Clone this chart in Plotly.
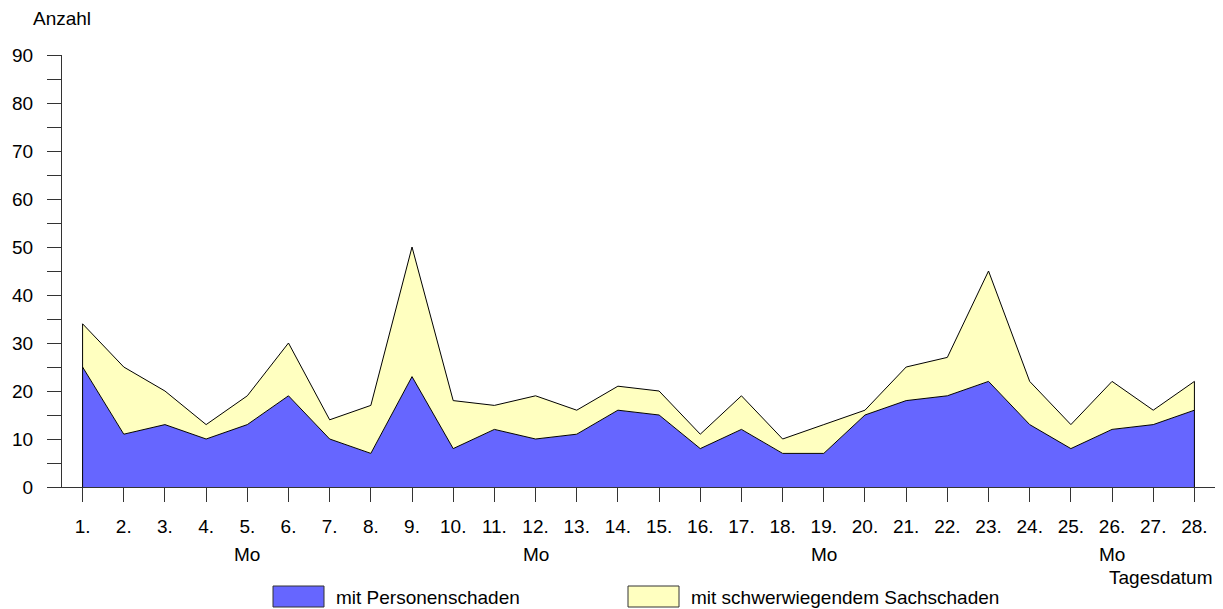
import plotly.graph_objects as go

days = [f"{d}." for d in range(1, 29)]
personen = [25, 11, 13, 10, 13, 19, 10, 7, 23, 8, 12, 10, 11, 16, 15, 8, 12, 7, 7, 15, 18, 19, 22, 13, 8, 12, 13, 16]
gesamt = [34, 25, 20, 13, 19, 30, 14, 17, 50, 18, 17, 19, 16, 21, 20, 11, 19, 10, 13, 16, 25, 27, 45, 22, 13, 22, 16, 22]
sach = [g - p for g, p in zip(gesamt, personen)]
montage = ["5.", "12.", "19.", "26."]
y_ticks = [0, 10, 20, 30, 40, 50, 60, 70, 80, 90]

BLUE = "#6666FF"
YELLOW = "#FFFFC0"
FONT = "Liberation Sans, Arial, sans-serif"
FS = 19

x = list(range(len(days)))

fig = go.Figure()
fig.add_trace(go.Scatter(
    x=x, y=personen, stackgroup="one", mode="lines",
    line=dict(color="black", width=1), fillcolor=BLUE,
    name="mit Personenschaden", showlegend=False, hoverinfo="skip"))
fig.add_trace(go.Scatter(
    x=x, y=sach, stackgroup="one", mode="lines",
    line=dict(color="black", width=1), fillcolor=YELLOW,
    name="mit schwerwiegendem Sachschaden", showlegend=False, hoverinfo="skip"))
# vertical edges of the area at first and last day
fig.add_trace(go.Scatter(
    x=[x[0], x[0], None, x[-1], x[-1]],
    y=[0, gesamt[0], None, 0, gesamt[-1]],
    mode="lines", line=dict(color="black", width=1),
    showlegend=False, hoverinfo="skip"))

# page offset (body margin) compensation
OFF = 8
# plot area geometry in page pixels
L, R, T, B = 62, 1215, 55, 487
W, H = R - L, B - T
def px(p):
    return (p - L) / W
def py(p):
    return (B - p) / H

annotations = []
for d in montage:
    annotations.append(dict(x=days.index(d), y=py(554), xref="x", yref="paper",
                            text="Mo", showarrow=False, xanchor="center", yanchor="middle",
                            font=dict(family=FONT, size=FS, color="black")))
annotations.append(dict(x=px(31), y=py(18), xref="paper", yref="paper", text="Anzahl",
                        showarrow=False, xanchor="left", yanchor="middle",
                        font=dict(family=FONT, size=FS, color="black")))
annotations.append(dict(x=px(1215), y=py(577), xref="paper", yref="paper", text="Tagesdatum",
                        showarrow=False, xanchor="right", yanchor="middle",
                        font=dict(family=FONT, size=FS, color="black")))
# legend
legend_items = [("mit Personenschaden", BLUE, 273), ("mit schwerwiegendem Sachschaden", YELLOW, 628)]
shapes = []
for label, col, x0 in legend_items:
    shapes.append(dict(type="rect", xref="paper", yref="paper",
                       x0=px(x0), x1=px(x0 + 51), y0=py(607), y1=py(586),
                       fillcolor=col, line=dict(color="#333333", width=1)))
    annotations.append(dict(x=px(x0 + 61), y=py(597), xref="paper", yref="paper", text=label,
                            showarrow=False, xanchor="left", yanchor="middle",
                            font=dict(family=FONT, size=FS, color="black")))

FW, FH = 1223, 609
fig.update_layout(
    width=FW, height=FH,
    margin=dict(l=L - OFF, r=FW - (R - OFF), t=T - OFF, b=FH - (B - OFF)),
    paper_bgcolor="white", plot_bgcolor="white",
    font=dict(family=FONT, size=FS, color="black"),
    showlegend=False,
    annotations=annotations,
    shapes=shapes,
    xaxis=dict(
        range=[-0.5, len(days) - 0.5],
        tickmode="array", tickvals=x, ticktext=days,
        ticks="outside", ticklen=14, tickcolor="#333333", tickwidth=1,
        showline=True, linecolor="#333333", linewidth=1,
        showgrid=False, zeroline=False, automargin=False,
        ticklabelstandoff=8,
        tickfont=dict(family=FONT, size=FS, color="black"),
    ),
    yaxis=dict(
        range=[0, 90],
        tickmode="array", tickvals=y_ticks,
        ticks="outside", ticklen=14, tickcolor="#333333", tickwidth=1,
        minor=dict(dtick=5, ticks="outside", ticklen=14, tickcolor="#333333", showgrid=False),
        showline=True, linecolor="#333333", linewidth=1,
        showgrid=False, zeroline=False, automargin=False,
        ticklabelstandoff=10,
        tickfont=dict(family=FONT, size=FS, color="black"),
    ),
)

fig.write_html("out.html")
